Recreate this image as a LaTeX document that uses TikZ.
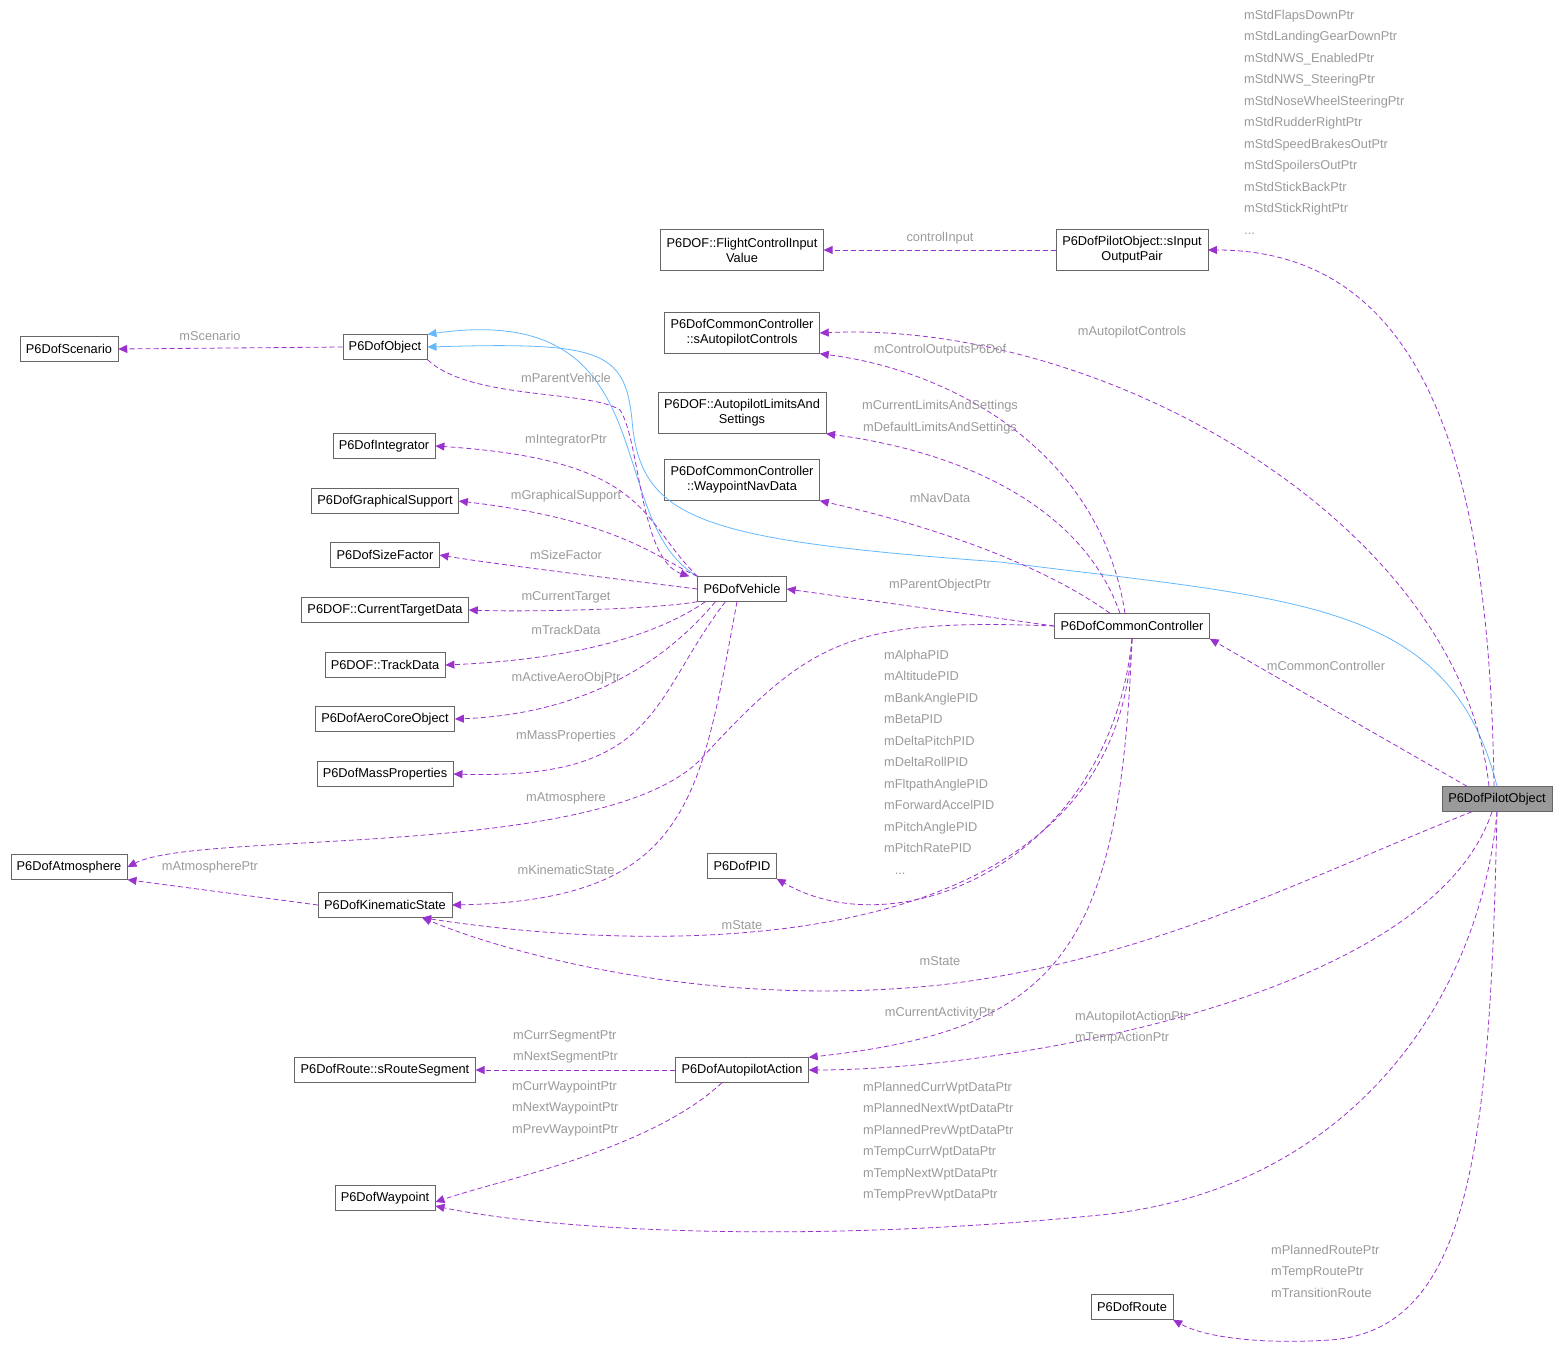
\documentclass[tikz,border=0pt]{standalone}
\usepackage{fontspec}
\setmainfont{Liberation Sans}
\usetikzlibrary{arrows.meta}
\definecolor{refcol}{HTML}{9A32CD}
\definecolor{inhcol}{HTML}{63B8FF}
\definecolor{lblcol}{HTML}{9A9A9A}
\definecolor{boxcol}{HTML}{666666}
\tikzset{
  cls/.style={draw=boxcol, fill=white, font=\fontsize{12.8}{15}\selectfont, inner xsep=6pt, inner ysep=2pt, minimum height=25pt, align=center},
  lbl/.style={text=lblcol, font=\fontsize{12.8}{21.5}\selectfont, inner sep=0pt, align=left},
  ref/.style={draw=refcol, dash pattern=on 5pt off 3pt, thick, -{Triangle[length=9pt,width=8pt]}},
  inh/.style={draw=inhcol, thick, -{Triangle[length=9pt,width=8pt]}}
}
\begin{document}
\begin{tikzpicture}[x=1pt,y=-1pt]
    \useasboundingbox (0,0) rectangle (1564,1348);

    % classes
    \node[cls] (scen) at (69,349) {P6DofScenario};
    \node[cls] (obj) at (385,347) {P6DofObject};
    \node[cls] (integ) at (384,446) {P6DofIntegrator};
    \node[cls] (graph) at (385,501) {P6DofGraphicalSupport};
    \node[cls] (size) at (385,555) {P6DofSizeFactor};
    \node[cls] (target) at (385,610) {P6DOF::CurrentTargetData};
    \node[cls] (track) at (385,665) {P6DOF::TrackData};
    \node[cls] (aero) at (385,719) {P6DofAeroCoreObject};
    \node[cls] (mass) at (385,774) {P6DofMassProperties};
    \node[cls] (atmos) at (69,867) {P6DofAtmosphere};
    \node[cls] (kin) at (385,905) {P6DofKinematicState};
    \node[cls] (seg) at (385,1070) {P6DofRoute::sRouteSegment};
    \node[cls] (wpt) at (385,1198) {P6DofWaypoint};
    \node[cls, minimum height=41pt] (fcin) at (742,250) {P6DOF::FlightControlInput\\Value};
    \node[cls, minimum height=41pt] (apctl) at (742,333) {P6DofCommonController\\::sAutopilotControls};
    \node[cls, minimum height=41pt] (limits) at (742,413) {P6DOF::AutopilotLimitsAnd\\Settings};
    \node[cls, minimum height=41pt] (navdata) at (742,480) {P6DofCommonController\\::WaypointNavData};
    \node[cls] (veh) at (742,589) {P6DofVehicle};
    \node[cls] (pid) at (742,866) {P6DofPID};
    \node[cls] (action) at (742,1070) {P6DofAutopilotAction};
    \node[cls, minimum height=41pt] (iopair) at (1132,250) {P6DofPilotObject::sInput\\OutputPair};
    \node[cls] (cc) at (1132,626) {P6DofCommonController};
    \node[cls] (route) at (1132,1307) {P6DofRoute};
    \node[cls, fill=lblcol] (pilot) at (1497,799) {P6DofPilotObject};

    % inheritance
    \draw[inh] (veh.north west) .. controls (600,520) and (670,300) .. (obj.north east);
    \draw[inh] (pilot.north) .. controls (1450,600) and (1300,600) .. (1000,562)
        .. controls (700,540) and (640,520) .. (632,420)
        .. controls (625,350) and (600,342) .. (obj.east);

    % members
    \draw[ref] (obj.west) -- (scen.east);
    \draw[ref] (obj.south east) .. controls (470,400) and (590,390) .. (620,410)
        .. controls (640,440) and (640,560) .. ([xshift=-8pt]veh.north west);
    \draw[ref] (veh.north west) .. controls (640,520) and (650,460) .. (integ.east);
    \draw[ref] (veh.north west) .. controls (660,560) and (620,520) .. (graph.east);
    \draw[ref] (veh.west) .. controls (650,583) and (500,565) .. (size.east);
    \draw[ref] (veh.south west) .. controls (650,610) and (520,612) .. (target.east);
    \draw[ref] ([xshift=8pt]veh.south west) .. controls (650,640) and (560,660) .. (track.east);
    \draw[ref] ([xshift=18pt]veh.south west) .. controls (650,680) and (560,715) .. (aero.east);
    \draw[ref] ([xshift=28pt]veh.south west) .. controls (650,700) and (660,780) .. (mass.east);
    \draw[ref] ([xshift=-5pt]veh.south) .. controls (700,800) and (690,900) .. (kin.east);
    \draw[ref] (cc.west) .. controls (850,618) and (810,640) .. (700,760)
        .. controls (600,860) and (200,830) .. (atmos.east);
    \draw[ref] (kin.west) -- (atmos.south east);
    \draw[ref] (iopair.west) -- (fcin.east);
    \draw[ref] ([xshift=-3pt]pilot.north) .. controls (1490,500) and (1440,250) .. (iopair.east);
    \draw[ref] ([xshift=-8pt]pilot.north) .. controls (1460,520) and (1100,320) .. (apctl.east);
    \draw[ref] ([xshift=-7pt]cc.north) .. controls (1100,450) and (950,370) .. (apctl.south east);
    \draw[ref] ([xshift=-12pt]cc.north) .. controls (1080,500) and (950,450) .. (limits.south east);
    \draw[ref] ([xshift=-22pt]cc.north) .. controls (1050,570) and (950,530) .. (navdata.south east);
    \draw[ref] (cc.west) -- (veh.east);
    \draw[ref] ([xshift=-30pt]pilot.north) -- (cc.south east);
    \draw[ref] (cc.south) .. controls (1110,860) and (900,950) .. (pid.south east);
    \draw[ref] (cc.south) .. controls (1120,950) and (700,960) .. ([xshift=-30pt]kin.south east);
    \draw[ref] ([xshift=-25pt]pilot.south) .. controls (1300,880) and (1150,960) .. (940,985)
        .. controls (700,1010) and (500,950) .. ([xshift=-30pt]kin.south east);
    \draw[ref] (cc.south) .. controls (1120,950) and (1060,1030) .. (action.north east);
    \draw[ref] ([xshift=-5pt]pilot.south) .. controls (1430,1000) and (1000,1070) .. (action.east);
    \draw[ref] (action.west) -- (seg.east);
    \draw[ref] ([xshift=-20pt]action.south) .. controls (650,1150) and (500,1180) .. ([yshift=-4pt]wpt.east);
    \draw[ref] (pilot.south) .. controls (1480,1000) and (1350,1190) .. (1100,1215)
        .. controls (800,1245) and (550,1230) .. ([yshift=-8pt]wpt.east);
    \draw[ref] (pilot.south) .. controls (1490,1150) and (1470,1330) .. (1330,1340)
        .. controls (1250,1345) and (1200,1335) .. (route.south east);

    % labels
    \node[lbl] at (210,336) {mScenario};
    \node[lbl] at (566,378) {mParentVehicle};
    \node[lbl] at (566,440) {mIntegratorPtr};
    \node[lbl] at (566,496) {mGraphicalSupport};
    \node[lbl] at (566,555) {mSizeFactor};
    \node[lbl] at (566,597) {mCurrentTarget};
    \node[lbl] at (566,630) {mTrackData};
    \node[lbl] at (566,678) {mActiveAeroObjPtr};
    \node[lbl] at (566,736) {mMassProperties};
    \node[lbl] at (566,798) {mAtmosphere};
    \node[lbl] at (566,870) {mKinematicState};
    \node[lbl] at (210,867) {mAtmospherePtr};
    \node[lbl] at (940,238) {controlInput};
    \node[lbl, anchor=north west] at (1244,10) {mStdFlapsDownPtr\\mStdLandingGearDownPtr\\mStdNWS\_EnabledPtr\\mStdNWS\_SteeringPtr\\mStdNoseWheelSteeringPtr\\mStdRudderRightPtr\\mStdSpeedBrakesOutPtr\\mStdSpoilersOutPtr\\mStdStickBackPtr\\mStdStickRightPtr\\...};
    \node[lbl] at (1132,332) {mAutopilotControls};
    \node[lbl] at (940,350) {mControlOutputsP6Dof};
    \node[lbl] at (940,406) {mCurrentLimitsAndSettings};
    \node[lbl] at (940,428) {mDefaultLimitsAndSettings};
    \node[lbl] at (940,498) {mNavData};
    \node[lbl] at (940,585) {mParentObjectPtr};
    \node[lbl] at (1326,666) {mCommonController};
    \node[lbl, anchor=north west] at (884,650) {mAlphaPID\\mAltitudePID\\mBankAnglePID\\mBetaPID\\mDeltaPitchPID\\mDeltaRollPID\\mFltpathAnglePID\\mForwardAccelPID\\mPitchAnglePID\\mPitchRatePID\\\ \ \ ...};
    \node[lbl] at (742,925) {mState};
    \node[lbl] at (940,961) {mState};
    \node[lbl] at (940,1013) {mCurrentActivityPtr};
    \node[lbl, anchor=north west] at (1075,1011) {mAutopilotActionPtr\\mTempActionPtr};
    \node[lbl, anchor=north west] at (513,1030) {mCurrSegmentPtr\\mNextSegmentPtr};
    \node[lbl, anchor=north west] at (512,1081) {mCurrWaypointPtr\\mNextWaypointPtr\\mPrevWaypointPtr};
    \node[lbl, anchor=north west] at (863,1082) {mPlannedCurrWptDataPtr\\mPlannedNextWptDataPtr\\mPlannedPrevWptDataPtr\\mTempCurrWptDataPtr\\mTempNextWptDataPtr\\mTempPrevWptDataPtr};
    \node[lbl, anchor=north west] at (1271,1245) {mPlannedRoutePtr\\mTempRoutePtr\\mTransitionRoute};
\end{tikzpicture}
\end{document}
